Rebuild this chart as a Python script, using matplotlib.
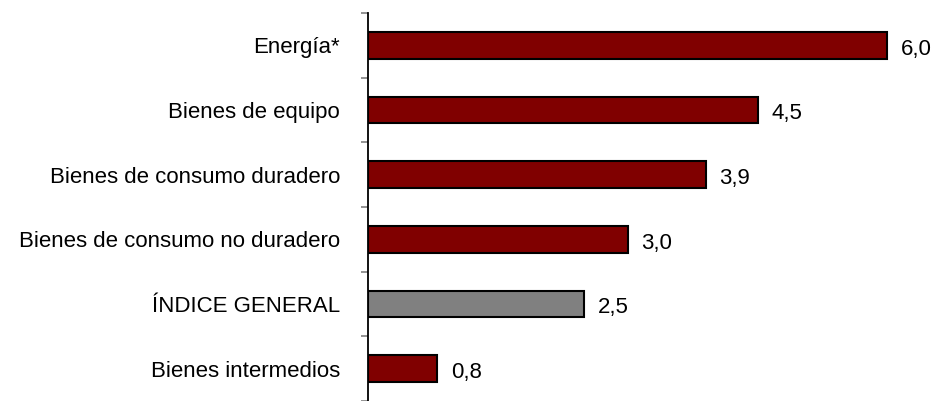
import numpy as np
import matplotlib.pyplot as plt

plt.rcParams['font.family'] = ['Liberation Sans', 'DejaVu Sans']

categorias = ["Bienes intermedios", "ÍNDICE GENERAL", "Bienes de consumo no duradero",
              "Bienes de consumo duradero", "Bienes de equipo", "Energía*"]
valores = [0.8, 2.5, 3.0, 3.9, 4.5, 6.0]
colores = ["#800000", "#808080", "#800000", "#800000", "#800000", "#800000"]

fig = plt.figure(figsize=(9.35, 4.01), dpi=100)
ax = fig.add_axes([368 / 935, 0, 1 - 368 / 935, 1 - 13 / 401])

y = np.arange(len(categorias))
ax.barh(y, valores, height=0.41, color=colores, edgecolor="black", linewidth=1.5)

# etiquetas con coma decimal
for yi, v in zip(y, valores):
    ax.annotate(f"{v:.1f}".replace(".", ","), xy=(v, yi), xytext=(10, -1),
                textcoords="offset points", va="center_baseline", ha="left", fontsize=16)

ax.set_xlim(0, 6.55)
ax.set_ylim(-0.427, 5.5)

ax.set_yticks(y)
ax.set_yticklabels(categorias, fontsize=16)
ax.set_yticks(np.arange(-0.5, 6, 1), minor=True)
ax.tick_params(axis="y", which="major", length=0, pad=20)
ax.tick_params(axis="y", which="minor", length=5, color="#808080", width=1.2)
ax.set_xticks([])

for s in ["top", "right", "bottom"]:
    ax.spines[s].set_visible(False)
ax.spines["left"].set_linewidth(1.3)

fig.savefig("out.png", dpi=100)
